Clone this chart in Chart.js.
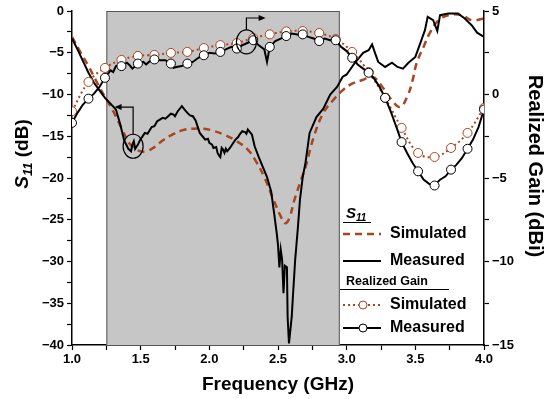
<!DOCTYPE html>
<html>
<head>
<meta charset="utf-8">
<script src="https://cdn.jsdelivr.net/npm/chart.js@4.4.1/dist/chart.umd.min.js"></script>
<style>
  body { margin: 0; background: #fff; }
  #wrap { width: 550px; height: 399px; }
</style>
</head>
<body>
<div id="wrap"><canvas id="myChart" width="550" height="399"></canvas></div>
<script>
// S11 measured (dB)
const s11MeasFreq = [1.00, 1.04, 1.08, 1.12, 1.16, 1.20, 1.24, 1.28, 1.32, 1.35, 1.38, 1.41, 1.43, 1.44, 1.45, 1.46, 1.48, 1.50, 1.51, 1.53, 1.55, 1.58, 1.60, 1.62, 1.64, 1.66, 1.68, 1.70, 1.72, 1.74, 1.75, 1.77, 1.79, 1.80, 1.82, 1.84, 1.86, 1.88, 1.90, 1.93, 1.95, 1.97, 1.99, 2.00, 2.02, 2.03, 2.05, 2.06, 2.07, 2.08, 2.09, 2.10, 2.11, 2.12, 2.13, 2.15, 2.17, 2.19, 2.21, 2.22, 2.24, 2.26, 2.27, 2.28, 2.29, 2.30, 2.31, 2.33, 2.36, 2.39, 2.42, 2.45, 2.47, 2.49, 2.50, 2.51, 2.52, 2.53, 2.54, 2.55, 2.565, 2.57, 2.58, 2.60, 2.61, 2.625, 2.645, 2.66, 2.68, 2.70, 2.73, 2.78, 2.83, 2.88, 2.93, 2.97, 3.00, 3.06, 3.12, 3.16, 3.185, 3.21, 3.23, 3.28, 3.33, 3.37, 3.41, 3.45, 3.50, 3.535, 3.57, 3.59, 3.63, 3.66, 3.68, 3.74, 3.81, 3.86, 3.91, 3.95, 4.00];
const s11MeasVal = [-3.3, -4.6, -6.0, -7.4, -8.6, -9.5, -10.4, -11.1, -11.8, -13.5, -15.5, -16.5, -16.8, -16.0, -15.6, -16.5, -16.0, -15.3, -15.1, -14.6, -14.7, -13.9, -13.8, -13.2, -13.0, -12.8, -12.9, -12.6, -12.3, -12.4, -12.6, -12.0, -11.6, -11.4, -11.8, -12.2, -12.5, -12.6, -13.1, -14.6, -15.0, -15.4, -15.3, -15.8, -16.0, -16.4, -16.3, -17.0, -17.3, -17.5, -16.4, -16.6, -17.0, -16.5, -16.8, -16.4, -15.9, -15.4, -15.1, -14.8, -14.4, -14.5, -14.7, -14.2, -14.4, -14.6, -14.8, -16.2, -17.5, -18.7, -19.9, -21.6, -24.0, -26.5, -28.0, -30.7, -28.6, -29.8, -33.8, -30.5, -30.7, -36.6, -39.8, -36.6, -33.8, -29.8, -25.9, -22.6, -19.9, -18.2, -14.6, -12.7, -11.7, -10.0, -9.1, -7.9, -7.6, -6.2, -5.0, -4.7, -4.0, -5.2, -6.1, -6.7, -6.2, -6.7, -6.9, -6.2, -5.5, -3.9, -2.3, -0.7, -1.1, -2.4, -0.5, -0.3, -0.3, -0.9, -1.7, -2.6, -3.1];

// S11 simulated (dB)
const s11SimFreq = [1.00, 1.06, 1.12, 1.18, 1.24, 1.30, 1.36, 1.42, 1.48, 1.54, 1.60, 1.66, 1.72, 1.80, 1.88, 1.96, 2.04, 2.12, 2.20, 2.28, 2.34, 2.40, 2.46, 2.52, 2.55, 2.58, 2.62, 2.66, 2.70, 2.76, 2.83, 2.90, 2.97, 3.04, 3.11, 3.19, 3.26, 3.33, 3.39, 3.44, 3.48, 3.51, 3.56, 3.61, 3.67, 3.74, 3.84, 3.91, 4.00];
const s11SimVal = [-3.1, -4.9, -6.6, -8.5, -10.3, -12.0, -14.0, -15.9, -16.7, -16.8, -16.3, -15.5, -14.9, -14.3, -14.1, -14.1, -14.4, -14.9, -15.6, -16.6, -18.0, -19.9, -22.3, -24.6, -25.4, -24.9, -22.6, -20.6, -18.7, -15.1, -12.2, -10.7, -9.5, -8.7, -8.3, -7.9, -9.1, -10.7, -11.5, -10.3, -8.3, -6.2, -4.3, -2.5, -1.1, -0.5, -0.5, -1.1, -0.9];

// Realized gain measured (dBi)
const gainMeasFreq = [1.00, 1.04, 1.08, 1.12, 1.16, 1.20, 1.24, 1.28, 1.30, 1.32, 1.36, 1.40, 1.42, 1.44, 1.48, 1.52, 1.54, 1.56, 1.60, 1.64, 1.68, 1.72, 1.74, 1.76, 1.80, 1.84, 1.88, 1.92, 1.96, 2.00, 2.04, 2.08, 2.12, 2.16, 2.20, 2.24, 2.28, 2.32, 2.36, 2.40, 2.42, 2.44, 2.48, 2.52, 2.56, 2.60, 2.64, 2.68, 2.72, 2.76, 2.80, 2.84, 2.88, 2.92, 2.96, 3.00, 3.04, 3.08, 3.12, 3.16, 3.20, 3.24, 3.28, 3.32, 3.36, 3.40, 3.44, 3.48, 3.52, 3.56, 3.60, 3.64, 3.68, 3.72, 3.76, 3.80, 3.84, 3.88, 3.92, 3.96, 4.00];
const gainMeasVal = [-1.7, -1.1, -0.6, -0.25, 0.05, 0.45, 1.0, 1.45, 1.35, 1.7, 1.7, 1.9, 1.75, 1.55, 1.85, 1.95, 1.8, 1.95, 2.1, 2.05, 2.05, 1.85, 1.6, 1.65, 1.7, 1.85, 1.95, 2.2, 2.35, 2.5, 2.45, 2.55, 2.7, 2.85, 2.75, 2.95, 3.1, 3.25, 2.95, 2.7, 1.95, 2.85, 3.2, 3.35, 3.5, 3.65, 3.6, 3.6, 3.45, 3.35, 3.2, 3.35, 3.25, 3.25, 2.85, 2.6, 2.2, 1.8, 1.55, 1.3, 0.95, 0.45, -0.2, -1.0, -1.9, -2.85, -3.5, -4.1, -4.6, -5.1, -5.35, -5.45, -5.1, -4.9, -4.5, -4.2, -3.8, -3.25, -2.7, -1.95, -0.9];

// Realized gain simulated (dBi)
const gainSimFreq = [1.00, 1.12, 1.24, 1.36, 1.48, 1.60, 1.72, 1.84, 1.96, 2.08, 2.20, 2.32, 2.44, 2.56, 2.68, 2.80, 2.92, 3.04, 3.16, 3.28, 3.40, 3.52, 3.64, 3.76, 3.88, 4.00];
const gainSimVal = [-1.0, 0.75, 1.59, 2.07, 2.31, 2.37, 2.49, 2.55, 2.78, 2.96, 3.08, 3.38, 3.6, 3.78, 3.8, 3.68, 3.32, 2.55, 1.35, -0.2, -2.0, -3.5, -3.74, -3.2, -2.3, -0.8];

const shadeFrom = 1.25, shadeTo = 2.95;

const simColor = "#a8461f";
const FONT = "'Liberation Sans', Arial, sans-serif";

function pts(fr, vals) {
  return fr.map((f, i) => ({ x: f, y: vals[i] }));
}
// circles every 0.12 GHz
function onMarker(ctx) {
  const p = ctx.raw;
  if (!p) return 0;
  const k = (p.x - 1) / 0.12;
  return Math.abs(k - Math.round(k)) < 1e-6 ? 4.5 : 0;
}
function minus(v) {
  return String(v).replace("-", "\u2212");
}

const shadePlugin = {
  id: "shade",
  beforeDatasetsDraw(chart) {
    const c = chart.ctx, xs = chart.scales.x, a = chart.chartArea;
    const x0 = xs.getPixelForValue(shadeFrom), x1 = xs.getPixelForValue(shadeTo);
    c.save();
    c.fillStyle = "#c6c6c6";
    c.fillRect(x0, a.top, x1 - x0, a.bottom - a.top);
    c.strokeStyle = "#555";
    c.lineWidth = 1;
    c.strokeRect(x0 + 0.5, a.top + 0.5, x1 - x0 - 1, a.bottom - a.top);
    c.restore();
  }
};

function arrowHead(c, x, y, dir) {
  c.beginPath();
  c.moveTo(x, y);
  c.lineTo(x - 7 * dir, y - 3);
  c.lineTo(x - 7 * dir, y + 3);
  c.closePath();
  c.fill();
}

const notesPlugin = {
  id: "notes",
  afterDatasetsDraw(chart) {
    const c = chart.ctx, xs = chart.scales.x, y = chart.scales.y, y1 = chart.scales.y1;
    c.save();
    c.strokeStyle = "#000";
    c.fillStyle = "#000";
    c.lineWidth = 1.2;
    // S11 marker -> left axis
    let cx = xs.getPixelForValue(1.445), cy = y.getPixelForValue(-16.2);
    c.beginPath(); c.ellipse(cx, cy, 10, 12, 0, 0, Math.PI * 2); c.stroke();
    let ty = y.getPixelForValue(-11.5), tx = xs.getPixelForValue(1.31);
    c.beginPath(); c.moveTo(cx, cy - 12); c.lineTo(cx, ty); c.lineTo(tx + 4, ty); c.stroke();
    arrowHead(c, tx, ty, -1);
    // gain marker -> right axis
    cx = xs.getPixelForValue(2.27); cy = y1.getPixelForValue(3.15);
    c.beginPath(); c.ellipse(cx, cy, 10, 12, 0, 0, Math.PI * 2); c.stroke();
    ty = y1.getPixelForValue(4.58); tx = xs.getPixelForValue(2.41);
    c.beginPath(); c.moveTo(cx, cy - 12); c.lineTo(cx, ty); c.lineTo(tx - 4, ty); c.stroke();
    arrowHead(c, tx, ty, 1);
    c.restore();
  }
};

const titlesPlugin = {
  id: "titles",
  afterDraw(chart) {
    const c = chart.ctx, a = chart.chartArea;
    c.save();
    c.fillStyle = "#000";
    c.textBaseline = "middle";
    // x title
    c.font = "bold 19px " + FONT;
    c.textAlign = "center";
    c.fillText("Frequency (GHz)", (a.left + a.right) / 2, 385);
    // left title: S11 (dB)
    c.save();
    c.translate(23, 154);
    c.rotate(-Math.PI / 2);
    const fs = "italic bold 19px " + FONT, fsub = "italic bold 13px " + FONT, fn = "bold 19px " + FONT;
    c.font = fs; const wS = c.measureText("S").width;
    c.font = fsub; const w11 = c.measureText("11").width;
    c.font = fn; const wr = c.measureText(" (dB)").width;
    let x0 = -(wS + w11 + wr) / 2;
    c.textAlign = "left";
    c.font = fs; c.fillText("S", x0, 0);
    c.font = fsub; c.fillText("11", x0 + wS, 5);
    c.font = fn; c.fillText(" (dB)", x0 + wS + w11, 0);
    c.restore();
    // right title
    c.save();
    c.translate(535, 166);
    c.rotate(Math.PI / 2);
    c.font = "bold 20px " + FONT;
    c.textAlign = "center";
    c.fillText("Realized Gain (dBi)", 0, 0);
    c.restore();
    c.restore();
  }
};

const legendPlugin = {
  id: "customLegend",
  afterDraw(chart) {
    const c = chart.ctx;
    c.save();
    c.fillStyle = "#000";
    c.strokeStyle = "#000";
    c.textBaseline = "middle";
    c.textAlign = "left";
    // S11 heading
    c.font = "italic bold 15px " + FONT;
    c.fillText("S", 346, 214);
    const wS = c.measureText("S").width;
    c.font = "italic bold 10px " + FONT;
    c.fillText("11", 346 + wS, 218);
    c.lineWidth = 1;
    c.beginPath(); c.moveTo(343, 222.5); c.lineTo(371, 222.5); c.stroke();
    // Realized Gain heading
    c.font = "bold 12.5px " + FONT;
    c.fillText("Realized Gain", 346, 282);
    c.beginPath(); c.moveTo(340, 289.5); c.lineTo(449, 289.5); c.stroke();

    const rows = [
      { y: 234, text: "Simulated", color: simColor, dash: [7, 5], width: 2.5, marker: false },
      { y: 261, text: "Measured", color: "#000", dash: [], width: 2, marker: false },
      { y: 305, text: "Simulated", color: simColor, dash: [2, 3], width: 2, marker: true },
      { y: 328, text: "Measured", color: "#000", dash: [], width: 2, marker: true }
    ];
    rows.forEach(r => {
      c.save();
      c.strokeStyle = r.color;
      c.lineWidth = r.width;
      c.setLineDash(r.dash);
      c.beginPath(); c.moveTo(343, r.y); c.lineTo(381, r.y); c.stroke();
      c.restore();
      if (r.marker) {
        c.save();
        c.fillStyle = "#fff";
        c.strokeStyle = r.color;
        c.lineWidth = 1;
        c.beginPath(); c.arc(363, r.y, 4, 0, Math.PI * 2); c.fill(); c.stroke();
        c.restore();
      }
      c.font = "bold 16px " + FONT;
      c.fillText(r.text, 390, r.y);
    });
    c.restore();
  }
};

const axisCommon = {
  border: { display: true, color: "#000", width: 1.5 },
  grid: { display: true, drawOnChartArea: false, drawTicks: true, tickLength: 5, color: "#000", tickColor: "#000", tickWidth: 1.2 },
};

const ctx = document.getElementById("myChart");
const myChart = new Chart(ctx, {
  type: "line",
  data: {
    datasets: [
      {
        label: "Realized Gain Measured",
        data: pts(gainMeasFreq, gainMeasVal),
        yAxisID: "y1",
        borderColor: "#000",
        borderWidth: 2,
        pointRadius: onMarker,
        pointBackgroundColor: "#fff",
        pointBorderColor: "#000",
        pointBorderWidth: 1,
        tension: 0,
        order: 1,
      },
      {
        label: "Realized Gain Simulated",
        data: pts(gainSimFreq, gainSimVal),
        yAxisID: "y1",
        borderColor: simColor,
        borderWidth: 2,
        borderDash: [2, 3],
        pointRadius: onMarker,
        pointBackgroundColor: "#fff",
        pointBorderColor: simColor,
        pointBorderWidth: 1,
        tension: 0.4,
        order: 2,
      },
      {
        label: "S11 Measured",
        data: pts(s11MeasFreq, s11MeasVal),
        yAxisID: "y",
        borderColor: "#000",
        borderWidth: 2,
        pointRadius: 0,
        tension: 0,
        order: 3,
      },
      {
        label: "S11 Simulated",
        data: pts(s11SimFreq, s11SimVal),
        yAxisID: "y",
        borderColor: simColor,
        borderWidth: 2.5,
        borderDash: [7, 5],
        pointRadius: 0,
        tension: 0.4,
        order: 4,
      },
    ],
  },
  options: {
    responsive: false,
    animation: false,
    devicePixelRatio: 1,
    layout: { padding: { top: 11, left: 0, right: 0, bottom: 0 } },
    plugins: { legend: { display: false }, tooltip: { enabled: false } },
    scales: {
      x: {
        type: "linear",
        min: 1, max: 4,
        ...axisCommon,
        ticks: {
          stepSize: 0.25,
          autoSkip: false,
          maxRotation: 0,
          padding: 2,
          color: "#000",
          font: { family: FONT, size: 13, weight: "bold" },
          callback: v => (Math.abs(v * 2 - Math.round(v * 2)) < 1e-6 ? v.toFixed(1) : ""),
        },
        afterFit: s => { s.height = 54; },
      },
      y: {
        position: "left",
        min: -40, max: 0,
        ...axisCommon,
        ticks: {
          stepSize: 2.5,
          autoSkip: false,
          padding: 3,
          color: "#000",
          font: { family: FONT, size: 13, weight: "bold" },
          callback: v => (v % 5 === 0 ? minus(v) : ""),
        },
        afterFit: s => { s.width = 72; },
      },
      y1: {
        position: "right",
        min: -15, max: 5,
        ...axisCommon,
        ticks: {
          stepSize: 2.5,
          autoSkip: false,
          padding: 3,
          color: "#000",
          font: { family: FONT, size: 13, weight: "bold" },
          callback: v => (v % 5 === 0 ? minus(v) : ""),
        },
        afterFit: s => { s.width = 66; },
      },
    },
  },
  plugins: [shadePlugin, notesPlugin, titlesPlugin, legendPlugin],
});
</script>
</body>
</html>
